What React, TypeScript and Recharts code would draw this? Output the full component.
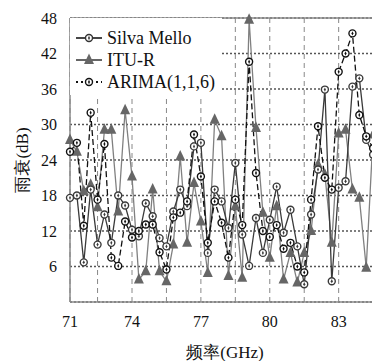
import React from 'react';
import { LineChart, Line, XAxis, YAxis, CartesianGrid, Legend, ReferenceLine } from 'recharts';

// frequency (GHz) of each sample
const freq = [
  71.3, 71.6, 71.9, 72.2, 72.5, 72.8, 73.1, 73.4, 73.7, 74.0, 74.3, 74.6, 74.9, 75.2, 75.5, 75.8,
  76.1, 76.4, 76.7, 77.0, 77.3, 77.6, 77.9, 78.2, 78.5, 78.8, 79.1, 79.4, 79.7, 80.0, 80.3, 80.6,
  80.9, 81.2, 81.5, 81.8, 82.1, 82.4, 82.7, 83.0, 83.3, 83.6, 83.9, 84.2, 84.5, 84.8,
];

const silvaMello = [
  17.6, 18, 6.7, 19, 9.7, 14.8, 10, 18, 16.3, 12.2, 11.1, 16.7, 14.5, 10.8, 9.4, 15.3,
  19, 16.2, 26.3, 26.9, 8.3, 19, 17, 12.5, 23.5, 11.4, 6.1, 14.2, 8.3, 13.9, 19.5, 11.7,
  15.6, 9.4, 3.0, 14.8, 22.4, 35.9, 3.5, 19.3, 20.4, 36.4, 37.8, 27.4, 24.9, 33.6,
];

const ituR = [
  27.4, 25.4, 18.7, 19.8, 16, 29.1, 29.1, 15.3, 32.4, 21.2, 3.8, 5.2, 19, 5.2, 3.5, 9.7,
  24.6, 10, 20.1, 13.6, 4.9, 30.8, 28, 4.4, 16.2, 4.1, 47.7, 29.4, 15.1, 7.5, 16.2, 3.8,
  8.3, 3.3, 8.3, 12, 23.2, 21.5, 10, 28.5, 29.1, 19, 17.6, 5.8, 28.3, 30,
];

const arima = [
  25.4, 26.9, 12.9, 32, 17.3, 26.7, 7.5, 6.1, 13.6, 10.9, 12, 13.1, 13.1, 8.4, 5.5, 14.3,
  15.1, 17, 28.3, 21.2, 10, 17, 13.4, 7.5, 17.3, 13, 40.6, 21.8, 12, 11, 13, 9,
  10, 6, 5, 17.3, 29.7, 21, 19, 38.9, 42, 45.4, 31.6, 28, 26, 28,
];

const xTicks = [71.3, 72.5, 74, 75.5, 77, 78.5, 80, 81.5, 83];
const xTickText = ['71', '', '74', '', '77', '', '80', '', '83'];
const yTicks = [6, 12, 18, 24, 30, 36, 42, 48];

const seriesNames = ['Silva Mello', 'ITU-R', 'ARIMA(1,1,6)'];

const data = freq.map((f, i) => ({ f, silva: silvaMello[i], itu: ituR[i], arima: arima[i] }));

const fontSerif = '"Liberation Serif", "Times New Roman", serif';

const CircleMark = ({ cx, cy, stroke }: any) => {
  if (cx == null || cy == null) return null;
  return (
    <g>
      <circle cx={cx} cy={cy} r={3.5} fill="#fff" stroke={stroke} strokeWidth={1.4} />
      <path d={`M${cx},${cy - 2.2}L${cx + 1},${cy}L${cx},${cy + 2.2}L${cx - 1},${cy}Z`} fill={stroke} />
    </g>
  );
};

const TriMark = ({ cx, cy }: any) => {
  if (cx == null || cy == null) return null;
  return <path d={`M${cx},${cy - 6.5}L${cx + 5},${cy + 4}L${cx - 5},${cy + 4}Z`} fill="#666" />;
};

const LegendBox = () => {
  const icons = [
    <svg width={26} height={14} key="a">
      <line x1={0} y1={7} x2={26} y2={7} stroke="#333" strokeWidth={1.8} />
      <CircleMark cx={13} cy={7} stroke="#333" />
    </svg>,
    <svg width={26} height={14} key="b">
      <line x1={0} y1={7} x2={26} y2={7} stroke="#666" strokeWidth={2} />
      <TriMark cx={13} cy={7} />
    </svg>,
    <svg width={26} height={14} key="c">
      <line x1={0} y1={7} x2={26} y2={7} stroke="#111" strokeWidth={1.8} strokeDasharray="2 3" />
      <CircleMark cx={13} cy={7} stroke="#111" />
    </svg>,
  ];
  return (
    <div style={{ background: '#fff', width: 152, height: 77, paddingTop: 9, boxSizing: 'border-box', fontFamily: fontSerif }}>
      {seriesNames.map((n, i) => (
        <div key={n} style={{ display: 'flex', alignItems: 'center', height: 22, fontFamily: fontSerif, fontSize: 18, color: '#111', whiteSpace: 'nowrap' }}>
          <span style={{ marginLeft: 6, marginRight: 5, display: 'flex' }}>{icons[i]}</span>
          <span style={{ fontFamily: fontSerif }}>{n}</span>
        </div>
      ))}
    </div>
  );
};

const YLabel = ({ viewBox }: any) => {
  const cx = viewBox.x + 14;
  const cy = viewBox.y + viewBox.height / 2;
  return (
    <text x={cx} y={cy} transform={`rotate(-90 ${cx} ${cy})`} textAnchor="middle" dominantBaseline="central"
      style={{ fontFamily: fontSerif }} fontSize={17} fill="#111">
      雨衰(dB)
    </text>
  );
};

const App = () => {
  return (
    <LineChart width={372} height={353} data={data} margin={{ top: 10, right: 0, left: 0, bottom: 3 }} style={{ fontFamily: fontSerif }}>
      <CartesianGrid horizontal={true} vertical={false} stroke="#555" strokeWidth={1.6} strokeDasharray="2 2" />
      <CartesianGrid horizontal={false} vertical={true} stroke="#888" strokeWidth={1} strokeDasharray="5 4" />
      <ReferenceLine y={48} stroke="#888" strokeWidth={1.5} />
      <XAxis
        type="number"
        dataKey="f"
        domain={[71.3, 84.8]}
        ticks={xTicks}
        tickFormatter={(v: number) => xTickText[xTicks.indexOf(v)]}
        tickLine={false}
        tickMargin={8}
        height={56}
        stroke="#888"
        strokeWidth={1.5}
        tick={{ fill: '#111', fontFamily: fontSerif, fontSize: 16 }}
        label={{ value: '频率(GHz)', position: 'insideBottom', offset: 0, fill: '#111', fontFamily: fontSerif, fontSize: 17 }}
      />
      <YAxis
        type="number"
        domain={[0, 48]}
        ticks={yTicks}
        width={62}
        tickLine={false}
        tickMargin={7}
        stroke="#888"
        strokeWidth={1.5}
        tick={{ fill: '#111', fontFamily: fontSerif, fontSize: 16 }}
        label={<YLabel />}
      />
      <Line dataKey="itu" name={seriesNames[1]} stroke="#808080" strokeWidth={1.3} dot={<TriMark />} activeDot={false} isAnimationActive={false} />
      <Line dataKey="silva" name={seriesNames[0]} stroke="#3a3a3a" strokeWidth={1.3} dot={<CircleMark stroke="#3a3a3a" />} activeDot={false} isAnimationActive={false} />
      <Line dataKey="arima" name={seriesNames[2]} stroke="#111" strokeWidth={1.3} strokeDasharray="6 3" dot={<CircleMark stroke="#111" />} activeDot={false} isAnimationActive={false} />
      <Legend layout="horizontal" verticalAlign="middle" align="center" content={<LegendBox />}
        wrapperStyle={{ left: 62, top: 10, width: 152, height: 77 }} />
    </LineChart>
  );
};

export default App;
